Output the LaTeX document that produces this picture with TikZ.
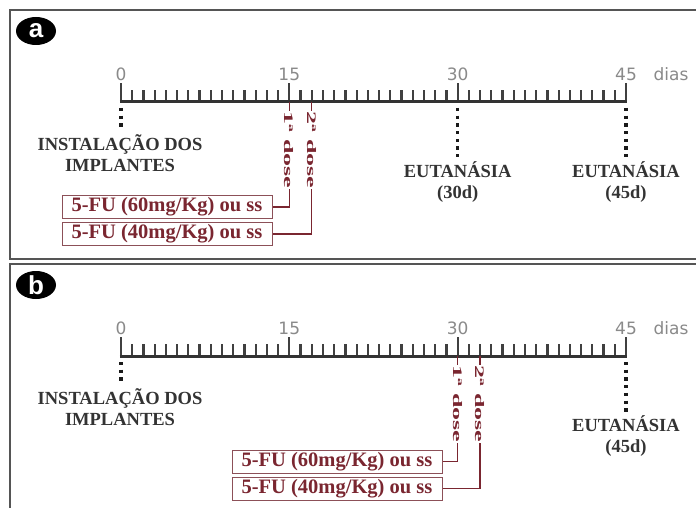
\documentclass[tikz,border=0pt]{standalone}
\usepackage{fontspec}
\setmainfont{Liberation Serif}
\newfontfamily\labfont{DejaVu Sans}
\newfontfamily\circfont{Liberation Sans}
\usetikzlibrary{shapes.geometric}
\definecolor{framecol}{HTML}{555555}
\definecolor{dred}{HTML}{7A2630}
\definecolor{boxline}{HTML}{8C5058}
\definecolor{labgray}{HTML}{8A8A8A}
\begin{document}
\begin{tikzpicture}[x=1pt,y=-1pt,
 panel/.style={draw=framecol, line width=2.5pt},
 axisline/.style={line width=3pt, black!80},
 tickline/.style={line width=2.3pt, black!75},
 daylab/.style={font=\labfont\fontsize{17}{17}\selectfont, text=labgray, inner sep=0},
 dotline/.style={line width=3.3pt, dash pattern=on 3.3pt off 4.4pt, black!90},
 evt/.style={font=\bfseries\fontsize{18.5}{21}\selectfont, align=center, inner sep=0, text=black!80},
 dosebox/.style={draw=boxline, line width=1pt, text=dred, font=\bfseries\fontsize{20.5}{21}\selectfont, minimum width=210pt, minimum height=23pt, inner sep=0},
 doseline/.style={draw=dred, line width=1.3pt},
 doselab/.style={fill=white, text=dred, rotate=-90, font=\bfseries\fontsize{13}{13}\selectfont, inner sep=1pt},
 badge/.style={ellipse, fill=black, minimum width=40pt, minimum height=28pt, inner sep=0, text=white, font=\circfont\bfseries\fontsize{26}{26}\selectfont}
]
\useasboundingbox (0,0) rectangle (696,508);
\fill[white] (0,0) rectangle (696,508);
\begin{scope}
\clip (0,0) rectangle (696,508);
\draw[panel] (10,10) rectangle (730,259);
\draw[panel] (10,264) rectangle (730,540);
\end{scope}

\foreach \p/\o in {a/0,b/254}{
  \node[badge] (badge\p) at (36,31+\o) {\p};
  % ticks
  \foreach \i in {0,...,45}{
    \pgfmathsetmacro\xx{121+\i*11.222}
    \pgfmathtruncatemacro\mm{mod(\i,15)}
    \ifnum\mm=0
      \draw[tickline] (\xx,102+\o) -- (\xx,83+\o);
    \else
      \draw[tickline] (\xx,102+\o) -- (\xx,90+\o);
    \fi
  }
  \coordinate (\p t0) at (119.8,102+\o);
  \coordinate (\p t45) at (627.2,102+\o);
  \draw[axisline] (\p t0) -- (\p t45);
  \node[daylab] (\p l0) at (121,74+\o) {0};
  \node[daylab] (\p l15) at (289.3,74+\o) {15};
  \node[daylab] (\p l30) at (457.7,74+\o) {30};
  \node[daylab] (\p l45) at (626,74+\o) {45};
  \node[daylab] (\p dias) at (671,74+\o) {dias};
  % installation
  \coordinate (\p i0) at (121,108+\o);
  \coordinate (\p i1) at (121,131+\o);
  \draw[dotline] (\p i0) -- (\p i1);
  \node[evt] (\p inst) at (120,153.5+\o) {INSTALAÇÃO DOS\\IMPLANTES};
  % euthanasia 45
  \coordinate (\p e45a) at (626,108+\o);
  \coordinate (\p e45b) at (626,160+\o);
  \draw[dotline] (\p e45a) -- (\p e45b);
  \node[evt] (\p eut45) at (626,182.5+\o) {EUTANÁSIA\\(45d)};
}

% panel a specifics
\coordinate (ae30a) at (457.7,108);
\coordinate (ae30b) at (457.7,160);
\draw[dotline] (ae30a) -- (ae30b);
\node[evt] (aeut30) at (457.7,182.5) {EUTANÁSIA\\(30d)};

\node[dosebox] (abox1) at (167,207) {5-FU (60mg/Kg) ou ss};
\node[dosebox] (abox2) at (167,234) {5-FU (40mg/Kg) ou ss};
\coordinate (ad1) at (289.3,102);
\coordinate (ad2) at (311.7,102);
\draw[doseline] (ad1) |- (abox1.east);
\draw[doseline] (ad2) |- (abox2.east);
\node[doselab] (adl1) at (289.3,150) {\scalebox{2}[1]{1ª dose}};
\node[doselab] (adl2) at (311.7,150) {\scalebox{2}[1]{2ª dose}};

% panel b specifics
\node[dosebox] (bbox1) at (337,461.5) {5-FU (60mg/Kg) ou ss};
\node[dosebox] (bbox2) at (337,488.5) {5-FU (40mg/Kg) ou ss};
\coordinate (bd1) at (457.7,356);
\coordinate (bd2) at (480.1,356);
\draw[doseline] (bd1) |- (bbox1.east);
\draw[doseline] (bd2) |- (bbox2.east);
\node[doselab] (bdl1) at (457.7,404) {\scalebox{2}[1]{1ª dose}};
\node[doselab] (bdl2) at (480.1,404) {\scalebox{2}[1]{2ª dose}};
\end{tikzpicture}
\end{document}
